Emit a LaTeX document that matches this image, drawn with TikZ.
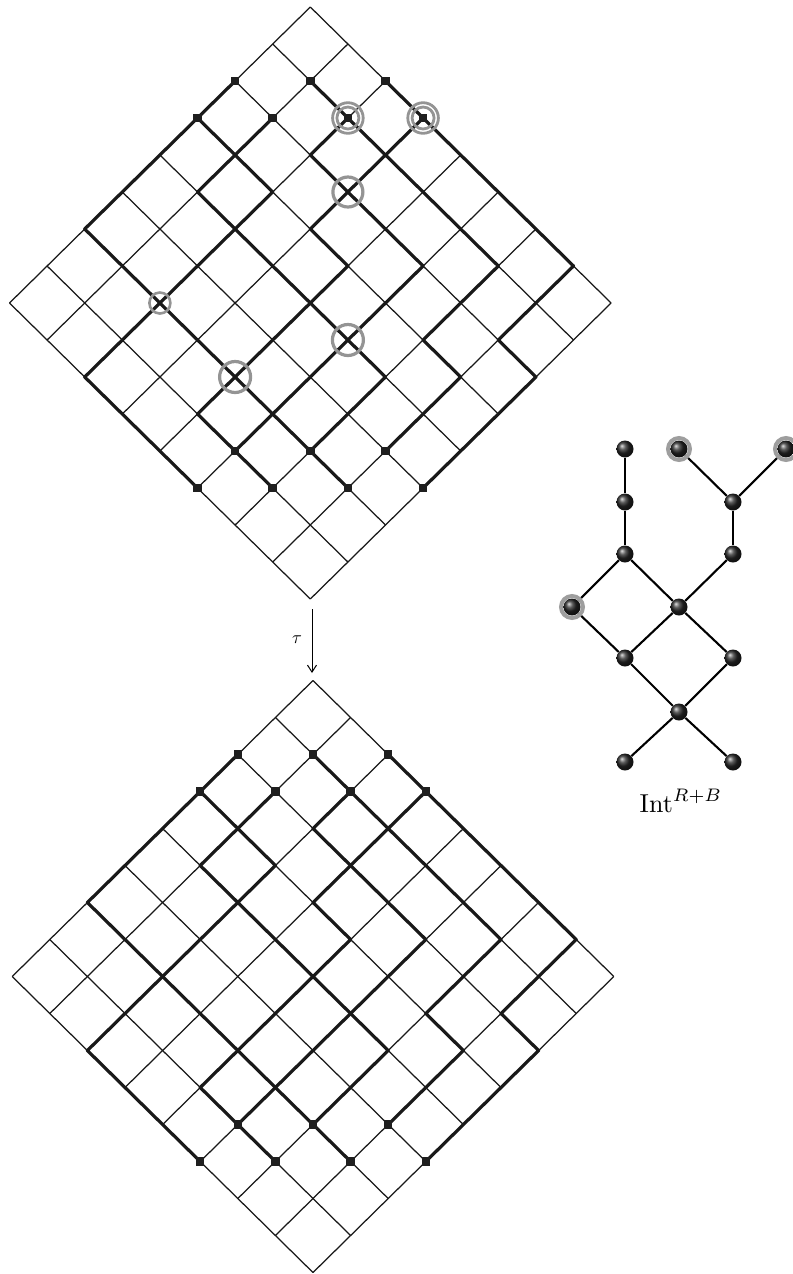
\documentclass[tikz,border=0pt]{standalone}
\usetikzlibrary{arrows.meta}
\begin{document}
\begin{tikzpicture}[x=1bp,y=-1bp,
  gridline/.style={line width=1.25bp, black!90},
  pathline/.style={line width=3.2bp, black!90, line cap=round, line join=round},
  endsq/.style={rectangle, fill=black!88, inner sep=0pt, minimum size=8.5bp},
  crossring/.style={draw=black!42, line width=3.2bp},
  srcring/.style={draw=black!42, line width=2.8bp},
  gball/.style={circle, inner sep=0pt, minimum size=17bp, shading=ball, ball color=black!85},
  gedge/.style={line width=2.1bp, black},
  ghalo/.style={draw=black!38, line width=4bp},
]
\useasboundingbox (0,0) rectangle (793,1274);

% lattice points of the two square grids (i runs down-left, j runs down-right)
\foreach \i in {0,...,8}{
  \foreach \j in {0,...,8}{
    \coordinate (t-\i-\j) at ({310.3+37.6*(\j-\i)},{7+37*(\i+\j)});
    \coordinate (b-\i-\j) at ({313+37.6*(\j-\i)},{680.5+37*(\i+\j)});
  }
}

% thin grid lines
\foreach \p in {t,b}{
  \foreach \k in {0,...,8}{
    \draw[gridline] (\p-\k-0) -- (\p-\k-8);
    \draw[gridline] (\p-0-\k) -- (\p-8-\k);
  }
}

% the two families of lattice paths on each grid
\foreach \p in {t,b}{
  \draw[pathline] (\p-2-0) -- (\p-6-0) -- (\p-6-7);
  \draw[pathline] (\p-3-0) -- (\p-3-2) -- (\p-4-2) -- (\p-4-6) -- (\p-6-6);
  \draw[pathline] (\p-2-1) -- (\p-4-1) -- (\p-4-2) -- (\p-6-2) -- (\p-8-2) -- (\p-8-5);
  \draw[pathline] (\p-1-1) -- (\p-1-2) -- (\p-2-2) -- (\p-2-5) -- (\p-7-5) -- (\p-7-6);
  \draw[pathline] (\p-0-2) -- (\p-0-7) -- (\p-2-7) -- (\p-2-8) -- (\p-5-8);
  \draw[pathline] (\p-0-3) -- (\p-1-3) -- (\p-1-6) -- (\p-3-6) -- (\p-3-7) -- (\p-5-7);
  \draw[pathline] (\p-1-3) -- (\p-3-3) -- (\p-3-4) -- (\p-4-4) -- (\p-6-4) -- (\p-7-4) -- (\p-7-5);
  \draw[pathline] (\p-1-2) -- (\p-1-3);
}

% start and end points
\foreach \p in {t,b}{
  \foreach \i/\j [count=\n] in {2/0,1/1,0/2,3/0,2/1,1/2,0/3,7/5,6/6,5/7,8/5,7/6,6/7,5/8}{
    \node[endsq] (\p-sq\n) at (\p-\i-\j) {};
  }
}

% marked points of the upper grid
\foreach \c in {t-1-2,t-0-3}{
  \draw[srcring] (\c) circle[radius=15.3];
  \draw[srcring] (\c) circle[radius=11];
}
\draw[crossring] (t-2-3) circle[radius=15];
\draw[crossring] (t-4-5) circle[radius=15.5];
\draw[crossring] (t-6-4) circle[radius=15.5];
\draw[crossring, line width=2.6bp] (t-6-2) circle[radius=10.5];

% the map between the two grids
\coordinate (tau-from) at (312,609);
\coordinate (tau-to) at (312,673);
\draw[line width=1bp, -{Straight Barb[length=7bp,width=9bp]}] (tau-from) -- (tau-to);
\node[scale=1.8] (taulabel) at (297,640) {$\tau$};

% intersection graph
\foreach \n/\x/\y in {1/625/449, 2/679/449, 3/786/449, 4/625/502, 5/733/502,
                      6/625/554, 7/733/554, 8/572/607, 9/679/607, 10/625/658,
                      11/733/658, 12/679/712, 13/625/762, 14/733/762}{
  \node[gball] (g\n) at (\x,\y) {};
}
\foreach \a/\b in {1/4, 4/6, 2/5, 3/5, 5/7, 7/9, 6/8, 6/9, 8/10, 9/10, 9/11,
                   10/12, 11/12, 12/13, 12/14}{
  \draw[gedge] (g\a) -- (g\b);
}
\foreach \n in {2,3,8}{
  \draw[ghalo] (g\n) circle[radius=11];
}
\node[scale=2.6] (intlabel) at (681,801) {$\mathrm{Int}^{R+B}$};
\end{tikzpicture}
\end{document}
